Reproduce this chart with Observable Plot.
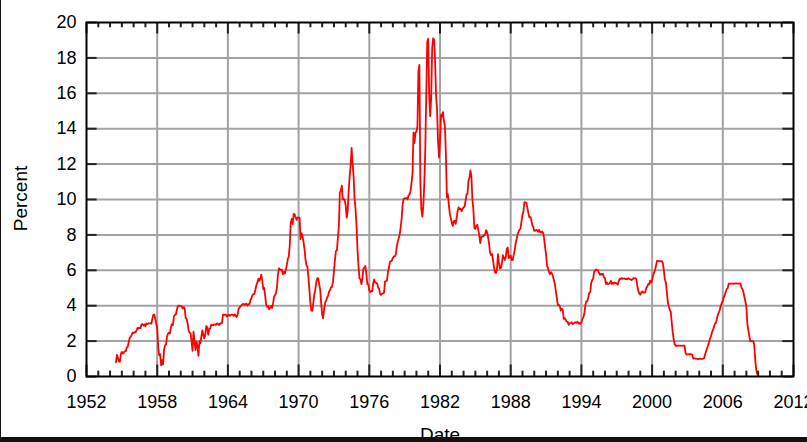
<!DOCTYPE html>
<html>
<head>
<meta charset="utf-8">
<script src="https://cdn.jsdelivr.net/npm/d3@7"></script>
<script src="https://cdn.jsdelivr.net/npm/@observablehq/plot@0.6"></script>
<style>
  html, body { margin: 0; padding: 0; background: #fff; }
  #wrap { position: relative; width: 807px; height: 442px; overflow: hidden; }
  #border { position: absolute; left: 0; top: 0; width: 807px; height: 442px; box-sizing: border-box;
            border-left: 1px solid #111; border-bottom: 5px solid #111; pointer-events: none; }
</style>
</head>
<body>
<div id="wrap"><div id="chart"></div><div id="border"></div></div>
<script>
// Effective federal funds rate, monthly (percent)
const start1950s = 1954.5; // July 1954
const rates1950s = [
  0.80,1.22,1.06,0.85,0.83,1.28,
  1.39,1.29,1.35,1.43,1.43,1.64,1.68,1.96,2.18,2.24,2.35,2.48,
  2.45,2.50,2.50,2.62,2.75,2.71,2.75,2.73,2.95,2.96,2.88,2.94,
  2.84,3.00,2.96,3.00,3.00,3.00,2.99,3.24,3.47,3.50,3.28,2.98,
  2.72,1.67,1.20,1.26,0.63,0.93,0.68,1.53,1.76,1.80,2.27,2.42,
  2.48,2.43,2.80,2.96,2.90,3.39,3.47,3.50,3.76,3.98,4.00,3.99
];
const start1960s = 1960;
const rates1960s = [
  3.99,3.97,3.84,3.92,3.85,3.32,3.23,2.98,2.60,2.47,2.44,1.98,
  1.45,2.54,2.02,1.49,1.98,1.73,1.17,2.00,1.88,2.26,2.61,2.33,
  2.15,2.37,2.85,2.78,2.36,2.68,2.71,2.93,2.90,2.90,2.94,2.93,
  2.92,3.00,2.98,2.90,3.00,2.99,3.02,3.49,3.48,3.50,3.48,3.38,
  3.48,3.48,3.43,3.47,3.50,3.50,3.42,3.50,3.45,3.36,3.52,3.85,
  3.90,3.98,4.04,4.09,4.10,4.04,4.09,4.12,4.01,4.08,4.10,4.32,
  4.42,4.60,4.65,4.67,4.90,5.17,5.30,5.53,5.40,5.53,5.76,5.40,
  4.94,5.00,4.53,4.05,3.94,3.98,3.79,3.90,3.99,3.88,4.13,4.51,
  4.60,4.71,5.05,5.76,6.11,6.07,6.02,6.03,5.78,5.91,5.82,6.02,
  6.30,6.64,6.79,7.41,8.67,8.90,8.61,9.19,9.15,9.00,8.85,8.97
];
const start1970s = 1970;
const rates1970s = [
  8.98,8.98,7.76,8.10,7.95,7.61,7.21,6.61,6.29,6.20,5.60,4.90,
  4.14,3.72,3.71,4.16,4.63,4.91,5.31,5.56,5.55,5.20,4.91,4.14,
  3.50,3.29,3.83,4.17,4.27,4.46,4.55,4.80,4.87,5.04,5.06,5.33,
  5.94,6.58,7.09,7.12,7.84,8.49,10.40,10.50,10.78,10.01,10.03,9.95,
  9.65,8.97,9.35,10.51,11.31,11.93,12.92,12.01,11.34,10.06,9.45,8.53,
  7.13,6.24,5.54,5.49,5.22,5.55,6.10,6.14,6.24,5.82,5.22,5.20,
  4.87,4.77,4.84,4.82,5.29,5.48,5.31,5.29,5.25,5.02,4.95,4.65,
  4.61,4.68,4.69,4.73,5.35,5.39,5.42,5.90,6.14,6.47,6.51,6.56,
  6.70,6.78,6.79,6.89,7.36,7.60,7.81,8.04,8.45,8.96,9.76,10.03,
  10.07,10.06,10.09,10.01,10.24,10.29,10.47,10.94,11.43,13.77,13.18,13.78
];
const start1980s = 1980;
const rates1980s = [
  13.82,14.13,17.19,17.61,10.98,9.47,9.03,9.61,10.87,12.81,15.85,18.90,
  19.08,15.93,14.70,15.72,18.52,19.10,19.04,17.82,15.87,15.08,13.31,12.37,
  13.22,14.78,14.68,14.94,14.45,14.15,12.59,10.12,10.31,9.71,9.20,8.95,
  8.68,8.51,8.77,8.80,8.63,8.98,9.37,9.56,9.45,9.48,9.34,9.47,
  9.56,9.59,9.91,10.29,10.32,11.06,11.23,11.64,11.30,9.99,9.43,8.38,
  8.35,8.50,8.58,8.27,7.97,7.53,7.88,7.90,7.92,7.99,8.05,8.27,
  8.14,7.86,7.48,6.99,6.85,6.92,6.56,6.17,5.89,5.85,6.04,6.91,
  6.43,6.10,6.13,6.37,6.85,6.73,6.58,6.73,7.22,7.29,6.69,6.77,
  6.83,6.58,6.58,6.87,7.09,7.51,7.75,8.01,8.19,8.30,8.35,8.76,
  9.12,9.36,9.85,9.84,9.81,9.53,9.24,8.99,9.02,8.84,8.55,8.45
];
const start1990s = 1990;
const rates1990s = [
  8.23,8.24,8.28,8.26,8.18,8.29,8.15,8.13,8.20,8.11,7.81,7.31,
  6.91,6.25,6.12,5.91,5.78,5.90,5.82,5.66,5.45,5.21,4.81,4.43,
  4.03,4.06,3.98,3.73,3.82,3.76,3.25,3.30,3.22,3.10,3.09,2.92,
  3.02,3.03,3.07,2.96,3.00,3.04,3.06,3.03,3.09,2.99,3.02,2.96,
  3.05,3.25,3.34,3.56,4.01,4.25,4.26,4.47,4.73,4.76,5.29,5.45,
  5.53,5.92,5.98,6.05,6.01,6.00,5.85,5.74,5.80,5.76,5.80,5.60,
  5.56,5.22,5.31,5.22,5.24,5.27,5.40,5.22,5.30,5.24,5.31,5.29,
  5.25,5.19,5.39,5.51,5.50,5.56,5.52,5.54,5.54,5.50,5.52,5.50,
  5.56,5.51,5.49,5.45,5.49,5.56,5.54,5.55,5.51,5.07,4.83,4.68,
  4.63,4.76,4.81,4.74,4.74,4.76,4.99,5.07,5.22,5.20,5.42,5.30
];
const start2000s = 2000;
const rates2000s = [
  5.45,5.73,5.85,6.02,6.27,6.53,6.54,6.50,6.52,6.51,6.51,6.40,
  5.98,5.49,5.31,4.80,4.21,3.97,3.77,3.65,3.07,2.49,2.09,1.82,
  1.73,1.74,1.73,1.75,1.75,1.75,1.73,1.74,1.75,1.75,1.34,1.24,
  1.24,1.26,1.25,1.26,1.26,1.22,1.01,1.03,1.01,1.01,1.00,0.98,
  1.00,1.01,1.00,1.00,1.00,1.03,1.26,1.43,1.61,1.76,1.93,2.16,
  2.28,2.50,2.63,2.79,3.00,3.04,3.26,3.50,3.62,3.78,4.00,4.16,
  4.29,4.49,4.59,4.79,4.94,4.99,5.24,5.25,5.25,5.25,5.25,5.24,
  5.25,5.26,5.26,5.25,5.25,5.25,5.26,5.02,4.94,4.76,4.49,4.24,
  3.94,2.98,2.61,2.28,1.98,2.00,2.01,2.00,1.81,0.97,0.39,0.16
];

const xTicks = [1952, 1958, 1964, 1970, 1976, 1982, 1988, 1994, 2000, 2006, 2012];
const yTicks = [0, 2, 4, 6, 8, 10, 12, 14, 16, 18, 20];
const xMinor = d3.range(1953, 2012).filter(y => !xTicks.includes(y));
const xLabel = "Date";
const yLabel = "Percent";

const series = [
  [start1950s, rates1950s], [start1960s, rates1960s], [start1970s, rates1970s],
  [start1980s, rates1980s], [start1990s, rates1990s], [start2000s, rates2000s]
].flatMap(([s, arr]) => arr.map((v, i) => ({date: s + i / 12, rate: v})));

const tickColor = "#222";
const gridColor = "#a3a3a3";

const chart = Plot.plot({
  width: 807,
  height: 442,
  marginLeft: 86,
  marginRight: 14,
  marginTop: 22,
  marginBottom: 66,
  style: {fontFamily: "'Liberation Sans', Arial, sans-serif", fontSize: "18px", background: "#fff", color: "#000"},
  x: {type: "linear", domain: [1952, 2012]},
  y: {domain: [0, 20]},
  marks: [
    // grid
    Plot.ruleX(xTicks.slice(1, -1), {stroke: gridColor, strokeWidth: 2}),
    Plot.ruleY(yTicks.slice(1, -1), {stroke: gridColor, strokeWidth: 2}),
    // data
    Plot.line(series, {x: "date", y: "rate", stroke: "#ff0000", strokeWidth: 1.8, curve: "linear"}),
    // inward ticks (lengths in data units)
    Plot.ruleX(xMinor, {y1: 0, y2: 0.3, stroke: tickColor, strokeWidth: 2}),
    Plot.ruleX(xMinor, {y1: 20, y2: 19.7, stroke: tickColor, strokeWidth: 2}),
    Plot.ruleX(xTicks, {y1: 0, y2: 0.65, stroke: tickColor, strokeWidth: 2}),
    Plot.ruleX(xTicks, {y1: 20, y2: 19.35, stroke: tickColor, strokeWidth: 2}),
    Plot.ruleY(yTicks, {x1: 1952, x2: 1952.9, stroke: tickColor, strokeWidth: 2}),
    Plot.ruleY(yTicks, {x1: 2011.1, x2: 2012, stroke: tickColor, strokeWidth: 2}),
    Plot.frame({stroke: "#000", strokeWidth: 2}),
    // axes
    Plot.axisX({ticks: xTicks, tickFormat: d => String(d), tickSize: 0, tickPadding: 19, fontSize: 18, label: null}),
    Plot.axisY({ticks: yTicks, tickFormat: d => String(d), tickSize: 0, tickPadding: 10, fontSize: 18, label: null}),
    Plot.text([yLabel], {frameAnchor: "left", dx: -66, dy: -1, rotate: -90, textAnchor: "middle", lineAnchor: "middle", text: d => d, fontSize: 19, fill: "#000"}),
    Plot.text([xLabel], {frameAnchor: "bottom", dy: 51, textAnchor: "middle", lineAnchor: "top", text: d => d, fontSize: 19, fill: "#000"})
  ]
});
document.getElementById("chart").appendChild(chart);
</script>
</body>
</html>
